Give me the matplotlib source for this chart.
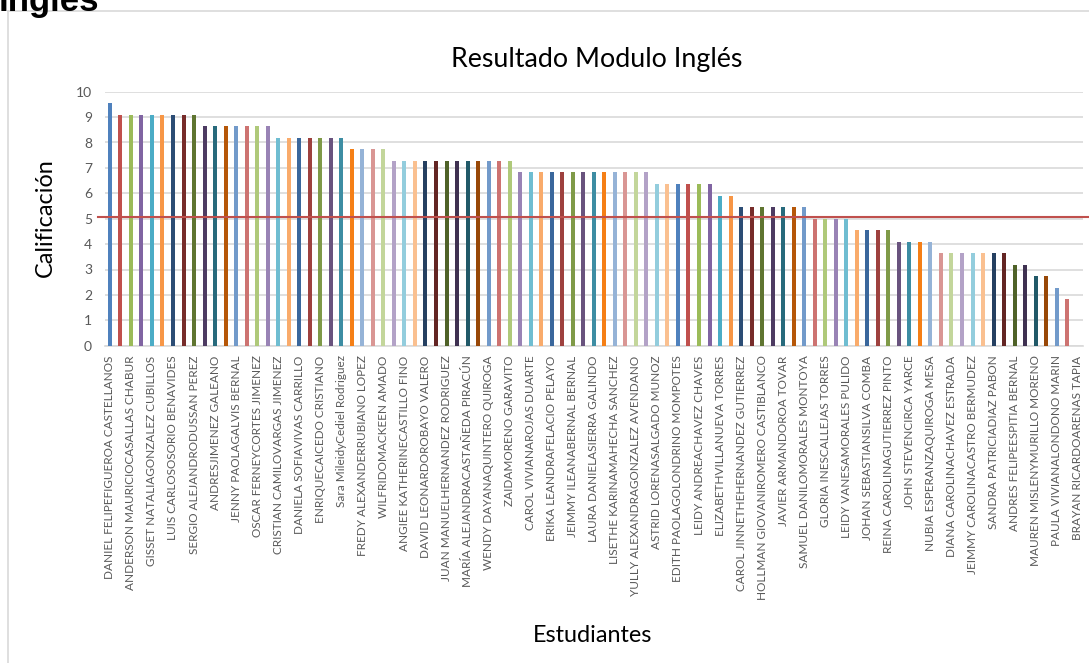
import matplotlib.pyplot as plt
from matplotlib.lines import Line2D

# etiquetas visibles (una de cada dos barras)
estudiantes_etiquetas = [
    'DANIEL FELIPEFIGUEROA CASTELLANOS', 'ANDERSON MAURICIOCASALLAS CHABUR',
    'GISSET NATALIAGONZALEZ CUBILLOS', 'LUIS CARLOSOSORIO BENAVIDES',
    'SERGIO ALEJANDRODUSSAN PEREZ', 'ANDRESJIMENEZ GALEANO',
    'JENNY PAOLAGALVIS BERNAL', 'OSCAR FERNEYCORTES JIMENEZ',
    'CRISTIAN CAMILOVARGAS JIMENEZ', 'DANIELA SOFIAVIVAS CARRILLO',
    'ENRIQUECAICEDO CRISTIANO', 'Sara MileidyCediel Rodriguez',
    'FREDY ALEXANDERRUBIANO LOPEZ', 'WILFRIDOMACKEEN AMADO',
    'ANGIEE KATHERINECASTILLO FINO', 'DAVID LEONARDOROBAYO VALERO',
    'JUAN MANUELHERNANDEZ RODRIGUEZ', 'MARÍA ALEJANDRACASTAÑEDA PIRACÚN',
    'WENDY DAYANAQUINTERO QUIROGA', 'ZAIDAMORENO GARAVITO',
    'CAROL VIVIANAROJAS DUARTE', 'ERIKA LEANDRAFELACIO PELAYO',
    'JEIMMY ILEANABERNAL BERNAL', 'LAURA DANIELASIERRA GALINDO',
    'LISETHE KARINAMAHECHA SANCHEZ', 'YULLY ALEXANDRAGONZALEZ AVENDANO',
    'ASTRID LORENASALGADO MUNOZ', 'EDITH PAOLAGOLONDRINO MOMPOTES',
    'LEIDY ANDREACHAVEZ CHAVES', 'ELIZABETHVILLANUEVA TORRES',
    'CAROL JINNETHEHERNANDEZ GUTIERREZ', 'HOLLMAN GIOVANIROMERO CASTIBLANCO',
    'JAVIER ARMANDOROA TOVAR', 'SAMUEL DANILOMORALES MONTOYA',
    'GLORIA INESCALLEJAS TORRES', 'LEIDY VANESAMORALES PULIDO',
    'JOHAN SEBASTIANSILVA COMBA', 'REINA CAROLINAGUTIERREZ PINTO',
    'JOHN STEVENCIRCA YARCE', 'NUBIA ESPERANZAQUIROGA MESA',
    'DIANA CAROLINACHAVEZ ESTRADA', 'JEIMMY CAROLINACASTRO BERMUDEZ',
    'SANDRA PATRICIADIAZ PABON', 'ANDRES FELIPEESPITIA BERNAL',
    'MAUREN MISLENYMURILLO MORENO', 'PAULA VIVIANALONDONO MARIN',
    'BRAYAN RICARDOARENAS TAPIA',
]

# calificaciones de las 93 barras
calificaciones = [
    9.55,
    9.09, 9.09, 9.09, 9.09, 9.09, 9.09, 9.09, 9.09,
    8.64, 8.64, 8.64, 8.64, 8.64, 8.64, 8.64,
    8.18, 8.18, 8.18, 8.18, 8.18, 8.18, 8.18,
    7.73, 7.73, 7.73, 7.73,
    7.27, 7.27, 7.27, 7.27, 7.27, 7.27, 7.27, 7.27, 7.27, 7.27, 7.27, 7.27,
    6.82, 6.82, 6.82, 6.82, 6.82, 6.82, 6.82, 6.82, 6.82, 6.82, 6.82, 6.82, 6.82,
    6.36, 6.36, 6.36, 6.36, 6.36, 6.36,
    5.91, 5.91,
    5.45, 5.45, 5.45, 5.45, 5.45, 5.45, 5.45,
    5.00, 5.00, 5.00, 5.00,
    4.55, 4.55, 4.55, 4.55,
    4.09, 4.09, 4.09, 4.09,
    3.64, 3.64, 3.64, 3.64, 3.64, 3.64, 3.64,
    3.18, 3.18,
    2.73, 2.73,
    2.27,
    1.82,
    0,
]

nota_minima = 5.05

# paleta tipo Excel
grupos = {
    'base': ['#4F81BD', '#C0504D', '#9BBB59', '#8064A2', '#4BACC6', '#F79646'],
    'dark': ['#2C4D75', '#772C2A', '#5F7530', '#4D3B62', '#276A7C', '#B65708'],
    'light': ['#729ACA', '#CD7371', '#AFC97A', '#9983B5', '#6FBDD1', '#F9AB6B'],
    'mid': ['#3A679C', '#9E413E', '#7F9A48', '#69537E', '#3D8DA3', '#F57F16'],
    'lighter': ['#95B3D7', '#D99694', '#C3D69B', '#B3A2C7', '#93CDDD', '#FAC090'],
    'darkest': ['#254061', '#632523', '#4F6228', '#3F3151', '#215968', '#984807'],
}
orden = ['base', 'dark', 'light', 'mid', 'lighter', 'darkest', 'light', 'mid',
         'lighter', 'base', 'dark', 'light', 'mid', 'lighter', 'darkest', 'light']
colores = []
for g in orden:
    colores += grupos[g]
colores = colores[:len(calificaciones)]

plt.rcParams['font.family'] = ['Lato', 'DejaVu Sans']

fig = plt.figure(figsize=(10.89, 6.63), dpi=100)
W, H = 1089, 663

# marco del grafico
fig.add_artist(Line2D([8 / W, 1], [1 - 11 / H, 1 - 11 / H], color='#D9D9D9', lw=1.2))
fig.add_artist(Line2D([8 / W, 8 / W], [0, 1 - 11 / H], color='#D9D9D9', lw=1.2))
fig.text(-1 / W, 1 - 11 / H, 'Inglés', fontsize=25, fontweight='bold',
         family='Liberation Sans', va='baseline', ha='left', color='black')

ax = fig.add_axes([104.6 / W, 1 - 345.7 / H, (1083 - 104.6) / W, (345.7 - 91.7) / H])
x = list(range(len(calificaciones)))
ax.bar(x, calificaciones, width=0.38, color=colores, zorder=3)

ax.set_xlim(-0.5, len(calificaciones) - 0.5)
ax.set_ylim(0, 10)
ax.set_yticks(range(0, 11))
ax.yaxis.grid(True, color='#D9D9D9', lw=1.2, zorder=0)
for s in ['top', 'right', 'left']:
    ax.spines[s].set_visible(False)
ax.spines['bottom'].set_color('#D9D9D9')
ax.spines['bottom'].set_linewidth(1.2)
ax.tick_params(axis='y', length=0, labelsize=10, labelcolor='#595959', pad=9)
ax.tick_params(axis='x', length=0, labelsize=8.5, labelcolor='#595959', pad=7)
ax.set_xticks(x[::2])
ax.set_xticklabels(estudiantes_etiquetas, rotation=90, ha='center', va='top')

# linea de aprobacion
x_ini = -0.5 + (97.7 - 104.6) / 10.52
x_fin = -0.5 + (1089 - 104.6) / 10.52
ax.plot([x_ini, x_fin], [nota_minima, nota_minima], color='#C0504D', lw=1.5,
        clip_on=False, zorder=4)

fig.text(597 / W, 1 - 60 / H, 'Resultado Modulo Inglés', fontsize=19.3,
         ha='center', va='center', color='black')
fig.text(45 / W, 1 - 218 / H, 'Calificación', fontsize=16.8, rotation=90,
         ha='center', va='center', color='black')
fig.text(593 / W, 1 - 635 / H, 'Estudiantes', fontsize=16.8,
         ha='center', va='center', color='black')

fig.savefig('out.png', dpi=100)
